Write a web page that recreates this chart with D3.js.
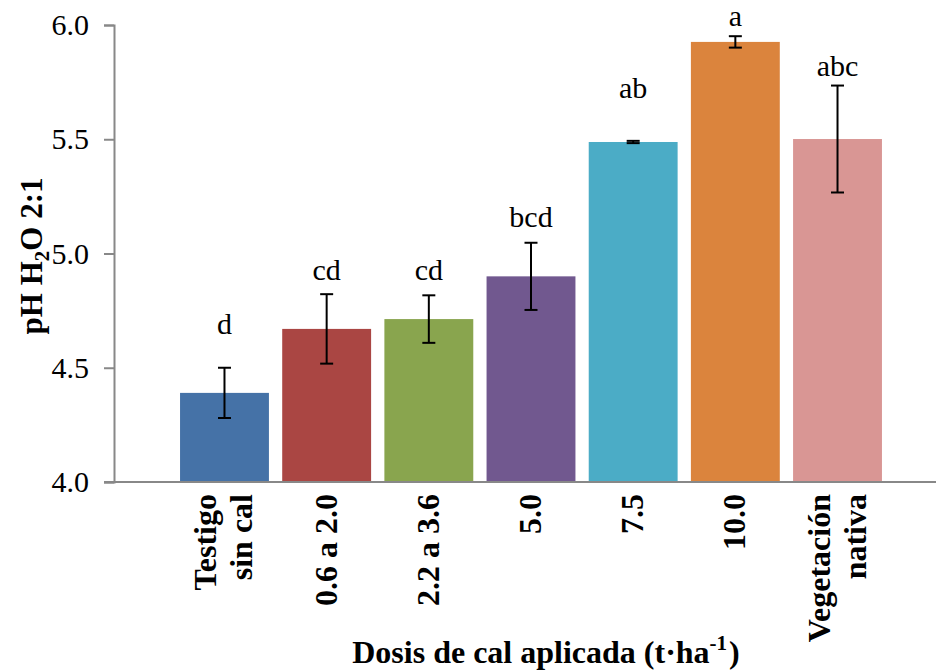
<!DOCTYPE html>
<html>
<head>
<meta charset="utf-8">
<script src="https://cdn.jsdelivr.net/npm/d3@7"></script>
<style>
  html, body { margin: 0; padding: 0; background: #fff; }
  svg { display: block; }
  svg text { font-family: "Times New Roman", "Liberation Serif", Times, "DejaVu Serif", serif !important; fill: #000; }
</style>
</head>
<body>
<script>
// pH (H2O 2:1) by lime dose
const categories = [["Testigo", "sin cal"], ["0.6 a 2.0"], ["2.2 a 3.6"], ["5.0"], ["7.5"], ["10.0"], ["Vegetación", "nativa"]];
const phMeans    = [4.39, 4.67, 4.713, 4.90, 5.488, 5.926, 5.501];
const phErrors   = [0.11, 0.152, 0.104, 0.147, 0.005, 0.025, 0.234];
const groupLetters = ["d", "cd", "cd", "bcd", "ab", "a", "abc"];
const yTicks = [4.0, 4.5, 5.0, 5.5, 6.0];

const barColors = ["#4572A7", "#AA4643", "#89A54E", "#71588F", "#4BACC6", "#DB843D", "#D99694"];
// extra lift of each letter above its error bar (px)
const letterGap = [34, 14, 15, 16, 43, 10, 10];

const W = 936, H = 671;
const svg = d3.select("body").append("svg").attr("width", W).attr("height", H);

const axisX0 = 114, axisX1 = 936;
const y = d3.scaleLinear().domain([4.0, 6.0]).range([482, 25]);
const keys = categories.map((c, i) => i);
const x = d3.scaleBand().domain(keys).range([173.4, 888.6]).paddingInner(0.13).paddingOuter(0.065);

// bars
svg.append("g").selectAll("rect").data(keys).join("rect")
  .attr("x", i => x(i))
  .attr("width", x.bandwidth())
  .attr("y", i => y(phMeans[i]))
  .attr("height", i => y(4.0) - y(phMeans[i]))
  .attr("fill", i => barColors[i]);

// y axis
const yAxis = d3.axisLeft(y).tickValues(yTicks).tickFormat(d3.format(".1f")).tickSize(10).tickPadding(15);
const gy = svg.append("g").attr("transform", `translate(${axisX0},0)`).call(yAxis);
gy.attr("font-family", null).attr("font-size", null);
gy.select(".domain").attr("stroke", "#888").attr("stroke-width", 2);
gy.selectAll(".tick line").attr("stroke", "#888").attr("stroke-width", 2);
gy.selectAll(".tick text").attr("font-size", 30).attr("fill", "#000");

// x baseline
svg.append("line")
  .attr("x1", axisX0 - 10).attr("x2", axisX1)
  .attr("y1", y(4.0)).attr("y2", y(4.0))
  .attr("stroke", "#888").attr("stroke-width", 2);

// error bars
const eb = svg.append("g").attr("stroke", "#000").attr("stroke-width", 2);
keys.forEach(i => {
  const cx = x(i) + x.bandwidth() / 2;
  const hi = y(phMeans[i] + phErrors[i]);
  const lo = y(phMeans[i] - phErrors[i]);
  eb.append("line").attr("x1", cx).attr("x2", cx).attr("y1", hi).attr("y2", lo);
  eb.append("line").attr("x1", cx - 6.5).attr("x2", cx + 6.5).attr("y1", hi).attr("y2", hi);
  eb.append("line").attr("x1", cx - 6.5).attr("x2", cx + 6.5).attr("y1", lo).attr("y2", lo);
});

// significance letters
svg.append("g").selectAll("text").data(keys).join("text")
  .attr("x", i => x(i) + x.bandwidth() / 2)
  .attr("y", i => y(phMeans[i] + phErrors[i]) - letterGap[i])
  .attr("text-anchor", "middle")
  .attr("font-size", 30)
  .text(i => groupLetters[i]);

// rotated category labels
const lineStep = 36;
keys.forEach(i => {
  const cx = x(i) + x.bandwidth() / 2;
  const lines = categories[i];
  const first = 10 - (lines.length - 1) * lineStep / 2;
  const t = svg.append("text")
    .attr("transform", `translate(${cx},494) rotate(-90)`)
    .attr("text-anchor", "end")
    .attr("font-size", 32)
    .attr("font-weight", "bold");
  lines.forEach((s, k) => {
    t.append("tspan").attr("x", 0).attr("y", first + k * lineStep).text(s);
  });
});

// y axis title
const yt = svg.append("text")
  .attr("transform", "translate(42,256) rotate(-90)")
  .attr("text-anchor", "middle")
  .attr("font-size", 31)
  .attr("font-weight", "bold");
yt.append("tspan").text("pH H");
yt.append("tspan").attr("font-size", 21).attr("dy", 7).text("2");
yt.append("tspan").attr("dy", -7).text("O 2:1");

// x axis title
const xt = svg.append("text")
  .attr("x", 546).attr("y", 663)
  .attr("text-anchor", "middle")
  .attr("font-size", 32)
  .attr("font-weight", "bold");
xt.append("tspan").text("Dosis de cal aplicada (t·ha");
xt.append("tspan").attr("font-size", 21).attr("dy", -13).text("-1");
xt.append("tspan").attr("dy", 13).attr("dx", 2).text(")");
</script>
</body>
</html>
